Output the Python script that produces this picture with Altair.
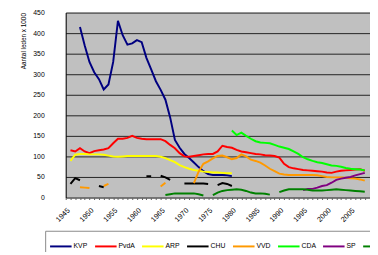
import altair as alt
import pandas as pd

PARTIES = ["KVP", "PvdA", "ARP", "CHU", "VVD", "CDA", "SP", "D66"]
COLORS = ["#000080", "#ff0000", "#ffff00", "#000000", "#ff9900", "#00ff00", "#800080", "#008000"]

X_YEARS = list(range(1945, 2010))
Y_TICKS = list(range(0, 451, 50))

# membership x 1000; None = no data (gap in the line)
KVP_START = 1948
KVP = [415, 370, 330, 305, 288, 263, 275, 330, 430, 395,
       372, 375, 383, 378, 340, 312, 283, 262, 238, 195,
       140, 121, 106, 96, 85, 74, 64, 57, 55, 55,
       55, 54, 52]

PVDA_START = 1946
PVDA = [115, 112, 120, 112, 108, 113, 115, 117, 120, 132,
        143, 143, 145, 150, 145, 143, 142, 142, 142, 142,
        137, 128, 120, 108, 100, 99, 101, 103, 105, 106,
        106, 112, 126, 123, 121, 116, 112, 110, 108, 106,
        105, 103, 102, 101, 97, 82, 74, 71, 69, 67,
        66, 65, 64, 63, 61, 60, 63, 65, 66, 67,
        68, 69, 65]

ARP_START = 1946
ARP = [89, 104, 106, 106, 105, 105, 105, 104, 102, 100,
       99, 100, 101, 101, 101, 101, 101, 101, 101, 99,
       96, 91, 86, 79, 74, 70, 67, 65, 63, 62,
       61, 61, 60, 59, 59]

CHU_START = 1946
CHU = [33, 47, 42, None, None, None, 28, 25, None, None,
       None, None, None, None, None, None, 52, 52, None, 53,
       49, 43, None, None, 34, 34, 34, 34, 34, 33,
       None, 30, 35, 33, 28]

VVD_START = 1948
VVD = [25, 24, 23, None, None, 28, 33, None, None, None,
       None, None, None, None, None, None, None, 27, 36, None,
       None, None, None, None, 35, 63, 82, 88, 95, 101,
       102, 98, 93, 96, 105, 100, 92, 89, 85, 78,
       70, 64, 58, 56, 55, 55, 55, 55, 55, 55,
       54, 52, 50, 49, 49, 49, 48, 47, 46, 44,
       41]

CDA_START = 1980
CDA = [163, 152, 158, 150, 143, 137, 134, 133, 132, 128,
       124, 121, 118, 112, 106, 98, 93, 89, 86, 84,
       81, 78, 77, 75, 72, 70, 69, 68, 66]

SP_START = 1995
SP = [18, 21, 21, 24, 28, 30, 36, 43, 46, 48, 50, 54, 57, 60]

D66_START = 1966
D66 = [6, 8, 10, 10, 10, 10, 10, 8, 5, None,
       6, 12, 16, 18, 19, 20, 19, 16, 12, 10,
       10, 9, 7, None, 13, 17, 20, 20, 20, 20,
       19, 17, 17, 17, 18, 19, 20, 19, 18, 17,
       16, 15, 14]

SERIES = [
    ("KVP", KVP_START, KVP),
    ("PvdA", PVDA_START, PVDA),
    ("ARP", ARP_START, ARP),
    ("CHU", CHU_START, CHU),
    ("VVD", VVD_START, VVD),
    ("CDA", CDA_START, CDA),
    ("SP", SP_START, SP),
    ("D66", D66_START, D66),
]

rows = []
for party, start, vals in SERIES:
    seg = 0
    for i, v in enumerate(vals):
        if v is None:
            seg += 1
            continue
        rows.append({"party": party, "year": start + i, "value": v,
                     "seg": f"{party}-{seg}"})
df = pd.DataFrame(rows)

FONT = "Liberation Sans"

chart = alt.Chart(df).mark_line(strokeWidth=2, clip=True).encode(
    x=alt.X("year:Q",
            scale=alt.Scale(domain=[1945, 2009.1], nice=False, zero=False),
            axis=alt.Axis(values=X_YEARS, format="d",
                          labelExpr="datum.value % 5 === 0 ? datum.label : ''",
                          labelAngle=-45, labelOverlap=False, labelFontSize=7.5,
                          labelFont=FONT, labelColor="#000", labelPadding=7,
                          tickSize=2, tickColor="#555", domainColor="#777",
                          grid=False, title=None)),
    y=alt.Y("value:Q",
            scale=alt.Scale(domain=[0, 450], nice=False),
            axis=alt.Axis(values=Y_TICKS, title="Aantal leden x 1000",
                          titleFont=FONT, titleFontSize=6.5, titleFontWeight="normal",
                          titleColor="#000", titleAnchor="end", titlePadding=6,
                          labelFont=FONT, labelFontSize=7, labelColor="#000",
                          labelPadding=22, tickSize=0, domainColor="#000",
                          gridColor="#222", gridWidth=1)),
    color=alt.Color("party:N",
                    scale=alt.Scale(domain=PARTIES, range=COLORS),
                    sort=PARTIES,
                    legend=alt.Legend(title=None, orient="none", legendX=-21, legendY=223,
                                      direction="horizontal", columns=8, gridAlign="none",
                                      symbolType="stroke", symbolSize=484,
                                      symbolStrokeWidth=2, labelFont=FONT,
                                      labelFontSize=7, labelColor="#000",
                                      labelOffset=1, columnPadding=3, padding=4,
                                      strokeColor="#888", fillColor="white")),
    detail="seg:N",
).properties(
    width=311, height=189,
    autosize=alt.AutoSizeParams(type="none"),
    padding={"left": 59, "top": 2, "right": 0, "bottom": 53},
).configure_view(
    fill="#c0c0c0", stroke="#c0c0c0"
)

chart.save("out.html", embed_options={"renderer": "svg", "actions": False})
